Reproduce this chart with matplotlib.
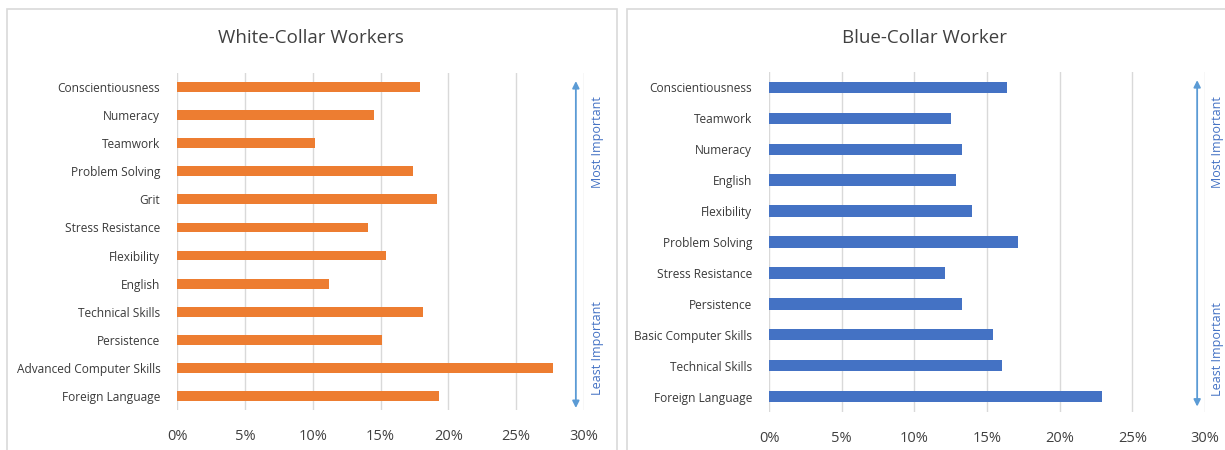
import matplotlib.pyplot as plt
from matplotlib.patches import Rectangle
from matplotlib.ticker import PercentFormatter

plt.rcParams['font.family'] = ['Open Sans', 'DejaVu Sans']

# data (percent)
white_skills = ["Conscientiousness", "Numeracy", "Teamwork", "Problem Solving", "Grit",
                "Stress Resistance", "Flexibility", "English", "Technical Skills",
                "Persistence", "Advanced Computer Skills", "Foreign Language"]
white_values = [17.9, 14.5, 10.2, 17.4, 19.2, 14.1, 15.4, 11.2, 18.1, 15.1, 27.7, 19.3]

blue_skills = ["Conscientiousness", "Teamwork", "Numeracy", "English", "Flexibility",
               "Problem Solving", "Stress Resistance", "Persistence",
               "Basic Computer Skills", "Technical Skills", "Foreign Language"]
blue_values = [16.4, 12.5, 13.3, 12.9, 14.0, 17.1, 12.1, 13.3, 15.4, 16.0, 22.9]

x_ticks = [0, 5, 10, 15, 20, 25, 30]

fig = plt.figure(figsize=(12.25, 4.5), dpi=100)

# panel frames
for x0, x1 in [(7, 617), (627, 1240)]:
    fig.patches.append(Rectangle((x0 / 1225, -0.1), (x1 - x0) / 1225, 1 - 9 / 450 + 0.1,
                                 transform=fig.transFigure, fill=False,
                                 edgecolor='#D9D9D9', linewidth=1.2))

ax1 = fig.add_axes([177 / 1225, 1 - 410 / 450, 407 / 1225, 337 / 450])
ax2 = fig.add_axes([769 / 1225, 1 - 412 / 450, 436 / 1225, 340 / 450])


def draw(ax, skills, values, color, height, title, title_x):
    ax.barh(range(len(skills)), values, height=height, color=color)
    ax.set_yticks(range(len(skills)))
    ax.set_yticklabels(skills, fontsize=8.6, color='#3A3A3A')
    ax.set_ylim(len(skills) - 0.5, -0.5)
    ax.set_xlim(0, 30)
    ax.set_xticks(x_ticks)
    ax.xaxis.set_major_formatter(PercentFormatter(decimals=0))
    ax.tick_params(axis='x', labelsize=10.5, labelcolor='#404040', length=0, pad=14)
    ax.tick_params(axis='y', length=0, pad=12)
    ax.grid(axis='x', color='#D9D9D9', linewidth=1)
    ax.set_axisbelow(True)
    for s in ax.spines.values():
        s.set_visible(False)
    fig.text(title_x / 1225, 1 - 38 / 450, title, ha='center', va='center',
             fontsize=13.5, color='#404040')


draw(ax1, white_skills, white_values, '#ED7D31', 0.35, "White-Collar Workers", 311)
draw(ax2, blue_skills, blue_values, '#4472C4', 0.37, "Blue-Collar Worker", 924)

# importance arrows
for ax, ax_x, txt_x, top, bot in [(ax1, 0.980, 1.032, 0.976, 0.006),
                                  (ax2, 0.982, 1.028, 0.976, 0.016)]:
    ax.annotate('', xy=(ax_x, top), xytext=(ax_x, bot), xycoords='axes fraction',
                arrowprops=dict(arrowstyle='<|-|>', color='#5B9BD5', lw=1.3,
                                mutation_scale=10, shrinkA=0, shrinkB=0))
    ax.text(txt_x, 0.795, "Most Important", transform=ax.transAxes, rotation=90,
            ha='center', va='center', fontsize=9, color='#4472C4')
    ax.text(txt_x, 0.185, "Least Important", transform=ax.transAxes, rotation=90,
            ha='center', va='center', fontsize=9, color='#4472C4')

fig.savefig("out.png", dpi=100)
